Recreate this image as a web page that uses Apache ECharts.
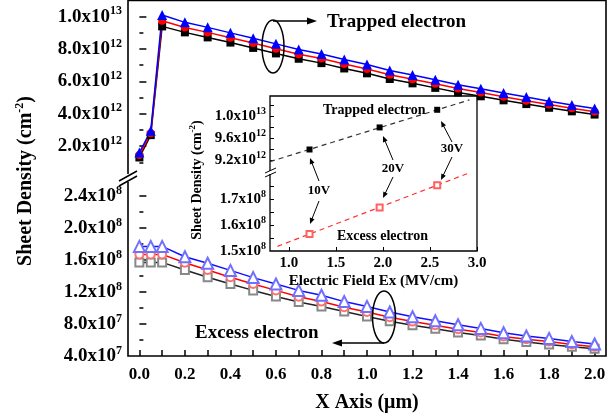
<!DOCTYPE html>
<html>
<head>
<meta charset="utf-8">
<script src="https://cdn.jsdelivr.net/npm/echarts@6/dist/echarts.min.js"></script>
<style>body{margin:0;background:#fff}</style>
</head>
<body>
<div id="main" style="width:616px;height:420px;"></div>
<script type="text/javascript">
// 数据：X 位置 (um)
var xPos = [0, 0.05, 0.1, 0.2, 0.3, 0.4, 0.5, 0.6, 0.7, 0.8, 0.9, 1.0, 1.1, 1.2, 1.3, 1.4, 1.5, 1.6, 1.7, 1.8, 1.9, 2.0];
// Trapped electron (cm^-2)
var trap10 = [1.30e12, 2.68e12, 9.40e12, 9.03e12, 8.72e12, 8.40e12, 8.07e12, 7.73e12, 7.40e12, 7.13e12, 6.80e12, 6.50e12, 6.15e12, 5.88e12, 5.60e12, 5.32e12, 5.08e12, 4.83e12, 4.60e12, 4.37e12, 4.15e12, 3.95e12];
var trap20 = [1.45e12, 2.80e12, 9.75e12, 9.33e12, 9.03e12, 8.70e12, 8.37e12, 8.02e12, 7.68e12, 7.41e12, 7.07e12, 6.77e12, 6.41e12, 6.14e12, 5.85e12, 5.56e12, 5.31e12, 5.05e12, 4.81e12, 4.57e12, 4.34e12, 4.13e12];
var trap30 = [1.60e12, 2.95e12, 1.01e13, 9.65e12, 9.34e12, 9.00e12, 8.67e12, 8.32e12, 7.97e12, 7.70e12, 7.35e12, 7.05e12, 6.68e12, 6.40e12, 6.10e12, 5.80e12, 5.55e12, 5.28e12, 5.03e12, 4.78e12, 4.54e12, 4.32e12];
// Excess electron (cm^-2)
var exc10 = [1.57e8, 1.57e8, 1.57e8, 1.475e8, 1.385e8, 1.30e8, 1.22e8, 1.145e8, 1.075e8, 1.02e8, 0.955e8, 0.895e8, 0.835e8, 0.785e8, 0.74e8, 0.695e8, 0.655e8, 0.61e8, 0.575e8, 0.545e8, 0.515e8, 0.49e8];
var exc20 = [1.67e8, 1.67e8, 1.67e8, 1.565e8, 1.475e8, 1.385e8, 1.30e8, 1.22e8, 1.14e8, 1.08e8, 1.01e8, 0.95e8, 0.885e8, 0.83e8, 0.785e8, 0.735e8, 0.695e8, 0.645e8, 0.61e8, 0.58e8, 0.545e8, 0.515e8];
var exc30 = [1.77e8, 1.77e8, 1.77e8, 1.64e8, 1.56e8, 1.47e8, 1.38e8, 1.30e8, 1.22e8, 1.16e8, 1.08e8, 1.02e8, 0.95e8, 0.89e8, 0.84e8, 0.79e8, 0.745e8, 0.69e8, 0.65e8, 0.62e8, 0.58e8, 0.55e8];

// 插图：电场 Ex (MV/cm)
var fieldEx = [1.22, 1.965, 2.577];
var insetTrap = [9.39e12, 9.79e12, 1.011e13];
var insetExc = [1.565e8, 1.667e8, 1.753e8];
var trapFitX = [0.8, 2.92];
var trapFitY = [9.17e12, 1.029e13];
var excFitX = [0.88, 2.9];
var excFitY = [1.518e8, 1.798e8];

// 刻度
var xTicks = [0, 0.1, 0.2, 0.3, 0.4, 0.5, 0.6, 0.7, 0.8, 0.9, 1.0, 1.1, 1.2, 1.3, 1.4, 1.5, 1.6, 1.7, 1.8, 1.9, 2.0];
var xLabels = [0, 0.2, 0.4, 0.6, 0.8, 1.0, 1.2, 1.4, 1.6, 1.8, 2.0];
var topTicks = [2e12, 4e12, 6e12, 8e12, 1e13];
var botTicks = [8e7, 1.2e8, 1.6e8, 2e8, 2.4e8];
var botLabels = [4e7, 8e7, 1.2e8, 1.6e8, 2e8, 2.4e8];
var insetXTicks = [1.0, 1.5, 2.0, 2.5, 3.0];
var insetTopTicks = [9.2e12, 9.4e12, 9.6e12, 9.8e12, 1e13, 1.02e13];
var insetTopLabels = [9.2e12, 9.6e12, 1e13];
var insetBotTicks = [1.55e8, 1.6e8, 1.65e8, 1.7e8, 1.75e8];
var insetBotLabels = [1.5e8, 1.6e8, 1.7e8];

var FONT = '"Liberation Serif", "Times New Roman", serif';

function pairs(xs, ys) {
    return xs.map(function (x, i) { return [x, ys[i]]; });
}
function sci(v) {
    var e = Math.floor(Math.log10(v) + 1e-9);
    var m = (v / Math.pow(10, e)).toFixed(1);
    return '{b|' + m + 'x10}{s|' + e + '}';
}
function sciRich(size, sup) {
    return {
        b: {fontFamily: FONT, fontWeight: 'bold', fontSize: size, color: '#000', lineHeight: size + 4},
        s: {fontFamily: FONT, fontWeight: 'bold', fontSize: sup, color: '#000', verticalAlign: 'top'}
    };
}
// 箭头
function arrow(x1, y1, x2, y2, h, w, lw) {
    var a = Math.atan2(y2 - y1, x2 - x1);
    var c = Math.cos(a), s = Math.sin(a);
    return [
        {type: 'line', z: 20, shape: {x1: x1, y1: y1, x2: x2 - c * h * 0.6, y2: y2 - s * h * 0.6}, style: {stroke: '#000', lineWidth: lw}},
        {type: 'polygon', z: 20, shape: {points: [[x2, y2], [x2 - c * h + s * w, y2 - s * h - c * w], [x2 - c * h - s * w, y2 - s * h + c * w]]}, style: {fill: '#000'}}
    ];
}
function txt(t, x, y, size, align) {
    return {type: 'text', z: 20, style: {text: t, x: x, y: y, font: 'bold ' + size + 'px ' + FONT, fill: '#000', align: align || 'left', verticalAlign: 'middle'}};
}

var myChart = echarts.init(document.getElementById('main'));

var hiddenX = function (idx, min, max) {
    return {gridIndex: idx, type: 'value', min: min, max: max, show: false};
};

var graphics = [
    // 主图边框
    {type: 'rect', z: 5, shape: {x: 128, y: 0.5, width: 478, height: 355.5}, style: {fill: null, stroke: '#000', lineWidth: 1.6}},
    // 断轴
    {type: 'rect', z: 6, shape: {x: 124, y: 174, width: 8, height: 8}, style: {fill: '#fff'}},
    {type: 'line', z: 7, shape: {x1: 119, y1: 181, x2: 137, y2: 171}, style: {stroke: '#000', lineWidth: 1.5}},
    {type: 'line', z: 7, shape: {x1: 119, y1: 186, x2: 137, y2: 176}, style: {stroke: '#000', lineWidth: 1.5}},
    // 插图边框
    {type: 'rect', z: 3, shape: {x: 270, y: 96, width: 207, height: 155}, style: {fill: '#fff', stroke: '#000', lineWidth: 1.3}},
    {type: 'rect', z: 11, shape: {x: 267, y: 171, width: 6, height: 3}, style: {fill: '#fff'}},
    {type: 'line', z: 12, shape: {x1: 265, y1: 173, x2: 276, y2: 168}, style: {stroke: '#000', lineWidth: 1}},
    {type: 'line', z: 12, shape: {x1: 265, y1: 177, x2: 276, y2: 172}, style: {stroke: '#000', lineWidth: 1}},
    // 椭圆
    {type: 'ellipse', z: 20, shape: {cx: 273, cy: 46.5, rx: 11, ry: 26.5}, style: {fill: null, stroke: '#000', lineWidth: 1.5}},
    {type: 'ellipse', z: 20, shape: {cx: 384, cy: 317, rx: 11.5, ry: 26}, style: {fill: null, stroke: '#000', lineWidth: 1.5}},
    txt('Trapped electron', 327, 22, 19),
    txt('Excess electron', 195, 333, 19),
    txt('Trapped electron', 323, 110, 14),
    txt('Excess electron', 337, 236, 14),
    txt('10V', 319, 191, 13, 'center'),
    txt('20V', 393, 169, 13, 'center'),
    txt('30V', 452, 149, 13, 'center'),
    // 纵轴标题
    {type: 'text', z: 20, x: 26, y: 181, rotation: Math.PI / 2,
        style: {text: '{t|Sheet Density (cm}{s|-2}{t|)}', align: 'center', verticalAlign: 'middle',
            rich: {t: {fontFamily: FONT, fontWeight: 'bold', fontSize: 20, color: '#000', lineHeight: 24},
                   s: {fontFamily: FONT, fontWeight: 'bold', fontSize: 12, color: '#000', verticalAlign: 'top'}}}},
    {type: 'text', z: 20, x: 197, y: 180, rotation: Math.PI / 2,
        style: {text: '{t|Sheet Density (cm}{s|-2}{t|)}', align: 'center', verticalAlign: 'middle',
            rich: {t: {fontFamily: FONT, fontWeight: 'bold', fontSize: 14, color: '#000', lineHeight: 17},
                   s: {fontFamily: FONT, fontWeight: 'bold', fontSize: 9, color: '#000', verticalAlign: 'top'}}}}
];
graphics = graphics
    .concat(arrow(273, 21, 317, 21, 10, 3.5, 1.5))
    .concat(arrow(384, 343, 332, 343, 10, 3.5, 1.5))
    .concat(arrow(319, 181, 310, 158, 6, 2.5, 1))
    .concat(arrow(319, 201, 310, 224, 6, 2.5, 1))
    .concat(arrow(393, 160, 383, 136, 6, 2.5, 1))
    .concat(arrow(393, 177, 383, 198, 6, 2.5, 1))
    .concat(arrow(452, 142, 441, 121, 6, 2.5, 1))
    .concat(arrow(452, 157, 441, 180, 6, 2.5, 1));

var option = {
    backgroundColor: '#fff',
    animation: false,
    grid: [
        {left: 128, width: 478, top: 0.5, height: 178, outerBoundsMode: 'none'},
        {left: 128, width: 478, top: 180, height: 176, outerBoundsMode: 'none'},
        {left: 270, width: 207, top: 96, height: 75, outerBoundsMode: 'none'},
        {left: 270, width: 207, top: 173, height: 78, outerBoundsMode: 'none'}
    ],
    xAxis: [
        hiddenX(0, -0.05, 2.05),
        {
            gridIndex: 1, type: 'value', min: -0.05, max: 2.05,
            axisLine: {show: false},
            splitLine: {show: false},
            axisTick: {inside: true, length: 6, lineStyle: {color: '#000', width: 1.5}, customValues: xTicks},
            axisLabel: {customValues: xLabels, margin: 10, color: '#000', fontFamily: FONT, fontWeight: 'bold', fontSize: 17,
                formatter: function (v) { return v.toFixed(1); }},
            name: 'X Axis (\u03bcm)', nameLocation: 'middle', nameGap: 37,
            nameTextStyle: {color: '#000', fontFamily: FONT, fontWeight: 'bold', fontSize: 20}
        },
        hiddenX(2, 0.8, 3.0),
        {
            gridIndex: 3, type: 'value', min: 0.8, max: 3.0, z: 10,
            axisLine: {show: false},
            splitLine: {show: false},
            axisTick: {inside: true, length: 4, lineStyle: {color: '#000', width: 1}, customValues: insetXTicks},
            axisLabel: {customValues: insetXTicks, margin: 5, color: '#000', fontFamily: FONT, fontWeight: 'bold', fontSize: 15,
                formatter: function (v) { return v.toFixed(1); }},
            name: 'Electric Field Ex (MV/cm)', nameLocation: 'middle', nameGap: 23,
            nameTextStyle: {color: '#000', fontFamily: FONT, fontWeight: 'bold', fontSize: 15}
        }
    ],
    yAxis: [
        {
            gridIndex: 0, type: 'value', min: 0, max: 1.1e13, interval: 2e12,
            axisLine: {show: false}, splitLine: {show: false},
            axisTick: {inside: true, length: 7, lineStyle: {color: '#000', width: 1.5}, customValues: topTicks},
            minorTick: {show: true, splitNumber: 2, length: 4, lineStyle: {color: '#000', width: 1.5}},
            axisLabel: {customValues: topTicks, margin: 6, formatter: sci, rich: sciRich(19, 12)}
        },
        {
            gridIndex: 1, type: 'value', min: 4e7, max: 2.6e8, interval: 4e7,
            axisLine: {show: false}, splitLine: {show: false},
            axisTick: {inside: true, length: 7, lineStyle: {color: '#000', width: 1.5}, customValues: botTicks},
            minorTick: {show: true, splitNumber: 2, length: 4, lineStyle: {color: '#000', width: 1.5}},
            axisLabel: {customValues: botLabels, margin: 6, formatter: sci, rich: sciRich(19, 12)}
        },
        {
            gridIndex: 2, type: 'value', min: 9.0e12, max: 1.036e13, interval: 2e11, z: 10,
            axisLine: {show: false}, splitLine: {show: false},
            axisTick: {inside: true, length: 4, lineStyle: {color: '#000', width: 1}, customValues: insetTopTicks},
            axisLabel: {customValues: insetTopLabels, margin: 4, formatter: sci, rich: sciRich(15, 10)}
        },
        {
            gridIndex: 3, type: 'value', min: 1.5e8, max: 1.8e8, interval: 1e7, z: 10,
            axisLine: {show: false}, splitLine: {show: false},
            axisTick: {inside: true, length: 4, lineStyle: {color: '#000', width: 1}, customValues: insetBotTicks},
            axisLabel: {customValues: insetBotLabels, margin: 4, formatter: sci, rich: sciRich(15, 10)}
        }
    ],
    graphic: graphics,
    series: [
        // Trapped electron
        {type: 'line', xAxisIndex: 0, yAxisIndex: 0, data: pairs(xPos, trap10), symbol: 'rect', symbolSize: 8,
            lineStyle: {color: '#000', width: 1.5}, itemStyle: {color: '#000'}},
        {type: 'line', xAxisIndex: 0, yAxisIndex: 0, data: pairs(xPos, trap20), symbol: 'circle', symbolSize: 8,
            lineStyle: {color: '#ff0000', width: 1.5}, itemStyle: {color: '#ff0000'}},
        {type: 'line', xAxisIndex: 0, yAxisIndex: 0, data: pairs(xPos, trap30), symbol: 'triangle', symbolSize: 10,
            lineStyle: {color: '#0000ff', width: 1.5}, itemStyle: {color: '#0000ff'}},
        // Excess electron
        {type: 'line', xAxisIndex: 1, yAxisIndex: 1, data: pairs(xPos, exc10), symbol: 'emptyRect', symbolSize: 8,
            lineStyle: {color: '#222', width: 1.5}, itemStyle: {color: '#888', borderWidth: 1}},
        {type: 'line', xAxisIndex: 1, yAxisIndex: 1, data: pairs(xPos, exc20), symbol: 'emptyCircle', symbolSize: 8,
            lineStyle: {color: '#ff0000', width: 1.5}, itemStyle: {color: '#ff7070', borderWidth: 1}},
        {type: 'line', xAxisIndex: 1, yAxisIndex: 1, data: pairs(xPos, exc30), symbol: 'emptyTriangle', symbolSize: 11,
            lineStyle: {color: '#1010ff', width: 1.5}, itemStyle: {color: '#7070ff', borderWidth: 1}},
        // 插图
        {type: 'line', xAxisIndex: 2, yAxisIndex: 2, z: 10, data: pairs(trapFitX, trapFitY), showSymbol: false,
            lineStyle: {color: '#333', width: 1.2, type: [5, 4]}},
        {type: 'line', xAxisIndex: 2, yAxisIndex: 2, z: 10, data: pairs(fieldEx, insetTrap), symbol: 'rect', symbolSize: 6,
            lineStyle: {width: 0}, itemStyle: {color: '#000'}},
        {type: 'line', xAxisIndex: 3, yAxisIndex: 3, z: 10, data: pairs(excFitX, excFitY), showSymbol: false,
            lineStyle: {color: '#ff3030', width: 1.2, type: [5, 4]}},
        {type: 'line', xAxisIndex: 3, yAxisIndex: 3, z: 10, data: pairs(fieldEx, insetExc), symbol: 'emptyRect', symbolSize: 6,
            lineStyle: {width: 0}, itemStyle: {color: '#ff6060', borderWidth: 1}}
    ]
};
myChart.setOption(option);
</script>
</body>
</html>
